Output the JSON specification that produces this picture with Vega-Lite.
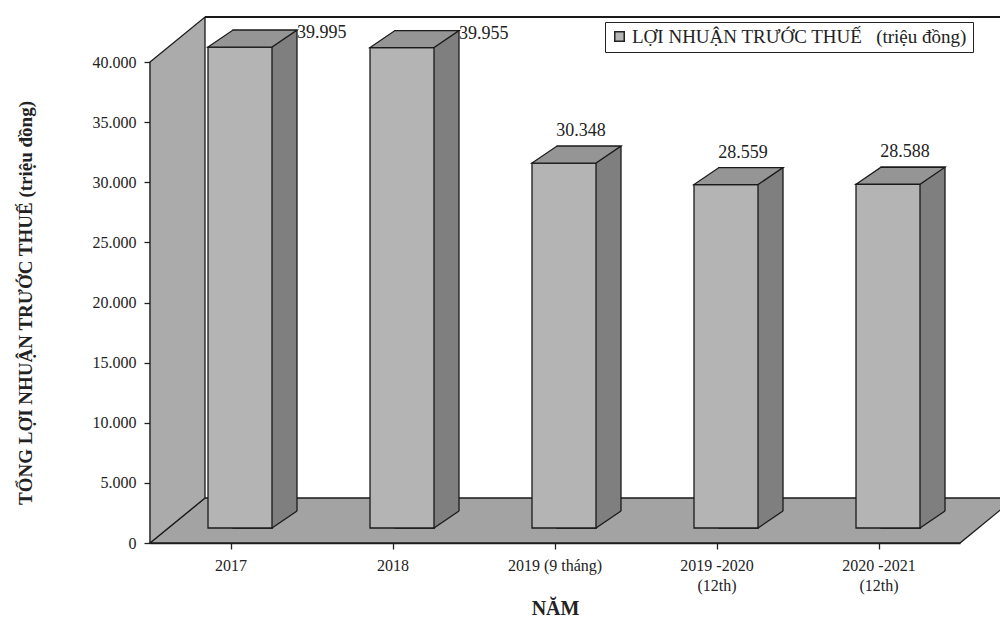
{
  "$schema": "https://vega.github.io/schema/vega-lite/v6.json",
  "width": 810,
  "height": 481,
  "autosize": {"type": "none"},
  "padding": {"left": 150, "top": 62, "right": 40, "bottom": 77},
  "background": "white",
  "config": {
    "font": "Liberation Serif",
    "text": {"font": "Liberation Serif"},
    "view": {"stroke": null}
  },
  "data": {"values": [
    {"nam": "2017", "loi_nhuan": 39995},
    {"nam": "2018", "loi_nhuan": 39955},
    {"nam": "2019 (9 tháng)", "loi_nhuan": 30348},
    {"nam": "2019 -2020 (12th)", "loi_nhuan": 28559},
    {"nam": "2020 -2021 (12th)", "loi_nhuan": 28588}
  ]},
  "encoding": {
    "x": {
      "field": "nam", "type": "nominal", "sort": null,
      "scale": {"paddingInner": 0, "paddingOuter": 0},
      "axis": {
        "title": "NĂM", "titleFontSize": 20, "titleFontWeight": "bold", "titleColor": "#222", "titlePadding": 5,
        "labelAngle": 0, "labelFontSize": 16, "labelColor": "#222", "labelPadding": 8, "labelLineHeight": 20,
        "tickSize": 6, "tickColor": "#222", "tickWidth": 1.3, "domainColor": "#222", "domainWidth": 1.5,
        "labelExpr": "indexof(datum.value, '(12th)') > 0 ? [replace(datum.value, ' (12th)', ''), '(12th)'] : datum.value"
      }
    },
    "y": {
      "field": "loi_nhuan", "type": "quantitative",
      "scale": {"domain": [0, 40000], "nice": false},
      "axis": {
        "title": "TỔNG LỢI NHUẬN TRƯỚC THUẾ (triệu đồng)", "titleFontSize": 19, "titleFontWeight": "bold", "titleColor": "#222", "titlePadding": 57,
        "values": [0, 5000, 10000, 15000, 20000, 25000, 30000, 35000, 40000],
        "labelExpr": "replace(format(datum.value, ','), ',', '.')", "labelFontSize": 16, "labelColor": "#222", "labelPadding": 8,
        "tickSize": 6, "tickColor": "#222", "tickWidth": 1.3, "domainColor": "#222", "domainWidth": 1.5, "grid": false
      }
    }
  },
  "layer": [
    {
      "transform": [{"filter": "datum.nam == '2017'"}],
      "mark": {"type": "point", "shape": "M-81,0L729,0L784,-45L-26,-45Z", "size": 4, "filled": true, "fill": "#a3a3a3", "fillOpacity": 1, "stroke": "#1a1a1a", "strokeWidth": 1.3, "opacity": 1},
      "encoding": {"y": {"datum": 0}}
    },
    {
      "transform": [{"filter": "datum.nam == '2017'"}],
      "mark": {"type": "point", "shape": "M-81,0L-81,-481L-26,-526L-26,-45Z", "size": 4, "filled": true, "fill": "#ababab", "fillOpacity": 1, "stroke": "#1a1a1a", "strokeWidth": 1.3, "opacity": 1},
      "encoding": {"y": {"datum": 0}}
    },
    {
      "transform": [{"filter": "datum.nam == '2017'"}],
      "mark": {"type": "point", "shape": "M-26,-526L800,-526", "size": 4, "filled": false, "stroke": "#1a1a1a", "strokeWidth": 1.8, "opacity": 1},
      "encoding": {"y": {"datum": 0}}
    },
    {
      "mark": {"type": "bar", "width": 64, "xOffset": 34, "yOffset": -32, "y2Offset": -15, "fill": "#7f7f7f", "stroke": "#1a1a1a", "strokeWidth": 1.3},
      "encoding": {"y2": {"datum": 0}}
    },
    {
      "mark": {"type": "bar", "width": 64, "xOffset": 9, "yOffset": -15, "y2Offset": -15, "stroke": "#1a1a1a", "strokeWidth": 1.3},
      "encoding": {
        "y2": {"datum": 0},
        "color": {
          "datum": "LỢI NHUẬN TRƯỚC THUẾ\u00a0\u00a0\u00a0(triệu đồng)",
          "scale": {"range": ["#b4b4b4"]},
          "legend": {
            "orient": "none", "legendX": 455, "legendY": -40, "title": null,
            "strokeColor": "#222", "fillColor": "white", "padding": 5,
            "symbolType": "square", "symbolSize": 90, "symbolStrokeColor": "#222", "symbolStrokeWidth": 1.5,
            "labelFont": "Liberation Serif", "labelFontSize": 19, "labelColor": "#222", "labelLimit": 0, "labelOffset": 3
          }
        }
      }
    },
    {
      "mark": {"type": "point", "shape": "M-23,-15L41,-15L66,-32L2,-32Z", "size": 4, "filled": true, "fill": "#959595", "fillOpacity": 1, "stroke": "#1a1a1a", "strokeWidth": 1.3, "opacity": 1}
    },
    {
      "mark": {"type": "point", "shape": "M42,-15.7L66,-32L68.5,-32L68.5,-13.5L42,-13.5Z", "size": 4, "filled": true, "fill": "#a3a3a3", "fillOpacity": 1, "strokeWidth": 0, "opacity": 1},
      "encoding": {"y": {"datum": 0}}
    },
    {
      "mark": {"type": "point", "shape": "M41,-15L66,-32", "size": 4, "filled": false, "stroke": "#1a1a1a", "strokeWidth": 1.3, "opacity": 1},
      "encoding": {"y": {"datum": 0}}
    },
    {
      "transform": [{"filter": "datum.nam == '2017' || datum.nam == '2018'"}],
      "mark": {"type": "text", "font": "Liberation Serif", "align": "left", "baseline": "middle", "dx": 66, "dy": -29, "fontSize": 18, "color": "#222", "text": {"expr": "replace(format(datum.loi_nhuan, ','), ',', '.')"}}
    },
    {
      "transform": [{"filter": "datum.nam != '2017' && datum.nam != '2018'"}],
      "mark": {"type": "text", "font": "Liberation Serif", "align": "center", "baseline": "middle", "dx": 26, "dy": -47, "fontSize": 18, "color": "#222", "text": {"expr": "replace(format(datum.loi_nhuan, ','), ',', '.')"}}
    }
  ]
}
